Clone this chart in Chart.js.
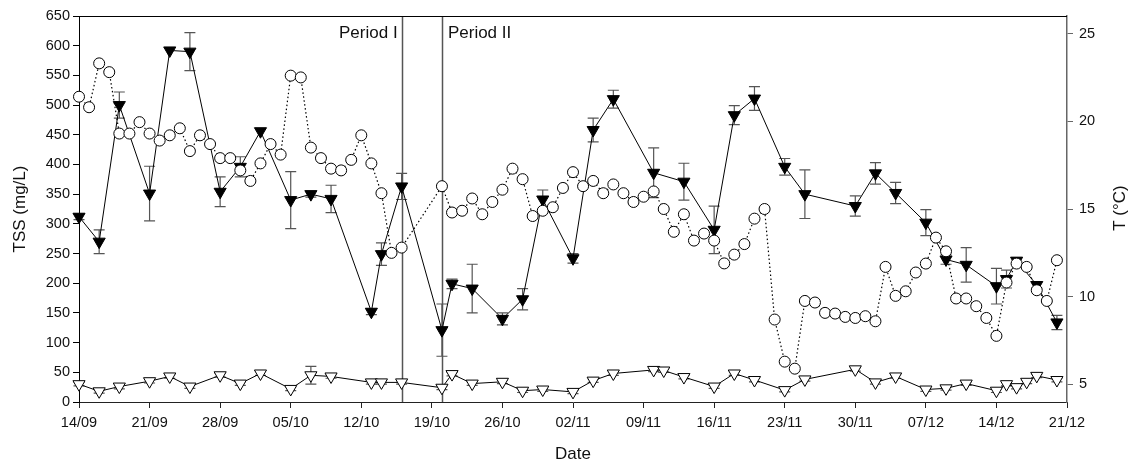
<!DOCTYPE html>
<html>
<head>
<meta charset="utf-8">
<script src="https://cdn.jsdelivr.net/npm/chart.js@4.4.1/dist/chart.umd.min.js"></script>
<style>
	html, body { margin: 0; padding: 0; background: #fff; }
	.chart-wrap { width: 1135px; height: 466px; }
</style>
</head>
<body>
<div class="chart-wrap"><canvas id="tss-chart"></canvas></div>
<script>
// x tick labels, one every 7 days starting 14/09
var tickLabels = ['14/09', '21/09', '28/09', '05/10', '12/10', '19/10', '26/10', '02/11', '09/11', '16/11', '23/11', '30/11', '07/12', '14/12', '21/12'];

// influent TSS (filled triangles), day offset from 14/09
var infDays = [0, 2, 4, 7, 9, 11, 14, 16, 18, 21, 23, 25, 29, 30, 32, 36, 37, 39, 42, 44, 46, 49, 51, 53, 57, 60, 63, 65, 67, 70, 72, 77, 79, 81, 84, 86, 88, 91, 92, 93, 95, 97];
var infTss = [312, 270, 500, 351, 592, 590, 354, 396, 456, 340, 350, 342, 152, 249, 363, 121, 199, 191, 140, 173, 341, 242, 458, 510, 386, 371, 290, 483, 511, 396, 350, 330, 385, 352, 302, 240, 231, 195, 207, 238, 197, 134];
var infErr = [5, 20, 22, 46, 0, 32, 25, 17, 0, 48, 5, 23, 5, 19, 22, 44, 8, 41, 10, 18, 16, 8, 20, 15, 42, 31, 40, 16, 20, 14, 41, 17, 18, 18, 22, 8, 29, 30, 15, 5, 5, 12];

// effluent TSS (open triangles)
var effDays = [0, 2, 4, 7, 9, 11, 14, 16, 18, 21, 23, 25, 29, 30, 32, 36, 37, 39, 42, 44, 46, 49, 51, 53, 57, 58, 60, 63, 65, 67, 70, 72, 77, 79, 81, 84, 86, 88, 91, 92, 93, 94, 95, 97];
var effTss = [30, 18, 26, 35, 43, 26, 45, 31, 48, 22, 45, 43, 33, 33, 33, 24, 47, 31, 34, 19, 21, 17, 36, 48, 54, 53, 42, 26, 48, 37, 20, 38, 55, 33, 43, 21, 23, 31, 19, 30, 25, 34, 44, 37];
var effErr = [3, 3, 4, 3, 3, 3, 3, 3, 3, 3, 15, 3, 3, 3, 3, 3, 3, 3, 3, 3, 3, 3, 3, 3, 3, 3, 3, 3, 3, 3, 3, 3, 3, 3, 3, 3, 3, 3, 3, 3, 3, 3, 3, 3];

// temperature, one value per day from 14/09 (null = no reading)
var temp = [21.4, 20.8, 23.3, 22.8, 19.3, 19.3, 19.95, 19.3, 18.9, 19.2, 19.6, 18.3, 19.2, 18.7, 17.9, 17.9, 17.2, 16.6, 17.6, 18.7, 18.1, 22.6, 22.5, 18.5, 17.9, 17.3, 17.2, 17.8, 19.2, 17.6, 15.9, 12.5, 12.8,
	null, null, null,
	16.3, 14.8, 14.9, 15.6, 14.7, 15.4, 16.1, 17.3, 16.7, 14.6, 14.9, 15.1, 16.2, 17.1, 16.3, 16.6, 15.9, 16.4, 15.9, 15.4, 15.7, 16.0, 15.0, 13.7, 14.7, 13.2, 13.6, 13.2, 11.9, 12.4, 13.0, 14.45, 15.0,
	8.7, 6.3, 5.9, 9.76, 9.67, 9.08, 9.04, 8.85, 8.79, 8.89, 8.6, 11.7, 10.05, 10.31, 11.38, 11.89, 13.37, 12.59, 9.9, 9.9, 9.46, 8.79, 7.77, 10.81, 11.89, 11.7, 10.37, 9.76, 12.08];

var periodLines = [32, 36];

function pts(xs, ys) {
	return xs.map(function (x, i) { return { x: x, y: ys[i] }; });
}

var fontFam = '"Liberation Sans", Arial, sans-serif';

var errorBars = {
	id: 'errorBars',
	beforeDatasetsDraw: function (chart) {
		var ctx = chart.ctx;
		ctx.save();
		ctx.strokeStyle = '#555';
		ctx.lineWidth = 1.2;
		chart.data.datasets.forEach(function (ds, di) {
			if (!ds.errors) return;
			var xs = chart.scales[ds.xAxisID || 'x'];
			var ys = chart.scales[ds.yAxisID];
			ds.data.forEach(function (p, i) {
				var e = ds.errors[i];
				if (!e) return;
				var px = xs.getPixelForValue(p.x);
				var top = ys.getPixelForValue(p.y + e);
				var bot = ys.getPixelForValue(p.y - e);
				ctx.beginPath();
				ctx.moveTo(px, top); ctx.lineTo(px, bot);
				ctx.moveTo(px - 5.5, top); ctx.lineTo(px + 5.5, top);
				ctx.moveTo(px - 5.5, bot); ctx.lineTo(px + 5.5, bot);
				ctx.stroke();
			});
		});
		ctx.restore();
	}
};

var decorations = {
	id: 'decorations',
	beforeDatasetsDraw: function (chart) {
		var ctx = chart.ctx;
		var a = chart.chartArea;
		var x = chart.scales.x;
		ctx.save();
		// period separators
		ctx.strokeStyle = '#555';
		ctx.lineWidth = 1.5;
		periodLines.forEach(function (d) {
			var px = Math.round(x.getPixelForValue(d)) + 0.5;
			ctx.beginPath();
			ctx.moveTo(px, a.top); ctx.lineTo(px, a.bottom);
			ctx.stroke();
		});
		// top frame
		ctx.strokeStyle = '#000';
		ctx.lineWidth = 1;
		ctx.beginPath();
		ctx.moveTo(a.left, a.top + 0.5); ctx.lineTo(a.right, a.top + 0.5);
		ctx.stroke();

		ctx.fillStyle = '#111';
		ctx.font = '17px ' + fontFam;
		ctx.textBaseline = 'middle';
		ctx.textAlign = 'right';
		ctx.fillText('Period I', x.getPixelForValue(periodLines[0]) - 4, 33);
		ctx.textAlign = 'left';
		ctx.fillText('Period II', x.getPixelForValue(periodLines[1]) + 6, 33);

		// right axis title, reads bottom to top
		ctx.translate(1120, 208);
		ctx.rotate(-Math.PI / 2);
		ctx.textAlign = 'center';
		ctx.fillText('T (\u00B0C)', 0, 0);
		ctx.restore();
	}
};

new Chart(document.getElementById('tss-chart'), {
	type: 'line',
	data: {
		datasets: [
			{
				label: 'T',
				data: temp.map(function (v, i) { return { x: i, y: v }; }),
				yAxisID: 'y2',
				spanGaps: true,
				clip: false,
				borderColor: '#000',
				borderWidth: 1.2,
				borderDash: [1.5, 2.5],
				pointStyle: 'circle',
				pointRadius: 5.5,
				pointBorderWidth: 1,
				pointBackgroundColor: '#fff',
				pointBorderColor: '#000',
				order: 0
			},
			{
				label: 'TSS effluent',
				data: pts(effDays, effTss),
				errors: effErr,
				yAxisID: 'y',
				clip: false,
				borderColor: '#000',
				borderWidth: 1,
				pointStyle: 'triangle',
				rotation: 180,
				pointRadius: 7,
				pointBorderWidth: 1,
				pointBackgroundColor: '#fff',
				pointBorderColor: '#000',
				order: 1
			},
			{
				label: 'TSS influent',
				data: pts(infDays, infTss),
				errors: infErr,
				yAxisID: 'y',
				clip: false,
				borderColor: '#000',
				borderWidth: 1,
				pointStyle: 'triangle',
				rotation: 180,
				pointRadius: 7,
				pointBorderWidth: 1,
				pointBackgroundColor: '#000',
				pointBorderColor: '#000',
				order: 2
			}
		]
	},
	options: {
		responsive: true,
		maintainAspectRatio: false,
		animation: false,
		layout: { padding: { top: 16, left: 0, right: 0, bottom: 0 } },
		plugins: {
			legend: { display: false },
			tooltip: { enabled: false }
		},
		scales: {
			x: {
				type: 'linear',
				min: 0,
				max: 98,
				afterBuildTicks: function (s) {
					s.ticks = tickLabels.map(function (t, i) { return { value: i * 7 }; });
				},
				afterFit: function (s) { s.height = 64; },
				grid: { drawOnChartArea: false, drawTicks: true, tickLength: 6, color: '#222' },
				border: { display: true, color: '#222', width: 1 },
				ticks: {
					autoSkip: false,
					maxRotation: 0,
					padding: 6,
					color: '#111',
					font: { family: fontFam, size: 14.5 },
					callback: function (v) { return tickLabels[Math.round(v / 7)]; }
				},
				title: {
					display: true,
					text: 'Date',
					color: '#111',
					font: { family: fontFam, size: 17 },
					padding: { top: 0, bottom: 1 }
				}
			},
			y: {
				position: 'left',
				min: 0,
				max: 650,
				afterFit: function (s) { s.width = 79; },
				grid: { drawOnChartArea: false, drawTicks: true, tickLength: 6, color: '#000' },
				border: { display: true, color: '#000', width: 1 },
				ticks: {
					stepSize: 50,
					padding: 3,
					color: '#111',
					font: { family: fontFam, size: 14.5 }
				},
				title: {
					display: true,
					text: 'TSS (mg/L)',
					color: '#111',
					font: { family: fontFam, size: 17 },
					padding: { top: 10, bottom: 0 }
				}
			},
			y2: {
				position: 'right',
				min: 4,
				max: 26,
				afterBuildTicks: function (s) {
					s.ticks = [5, 10, 15, 20, 25].map(function (v) { return { value: v }; });
				},
				afterFit: function (s) { s.width = 68; },
				grid: { drawOnChartArea: false, drawTicks: true, tickLength: 6, color: '#666' },
				border: { display: true, color: '#666', width: 1.5 },
				ticks: {
					padding: 6,
					color: '#111',
					font: { family: fontFam, size: 14.5 }
				}
			}
		}
	},
	plugins: [errorBars, decorations]
});
</script>
</body>
</html>
